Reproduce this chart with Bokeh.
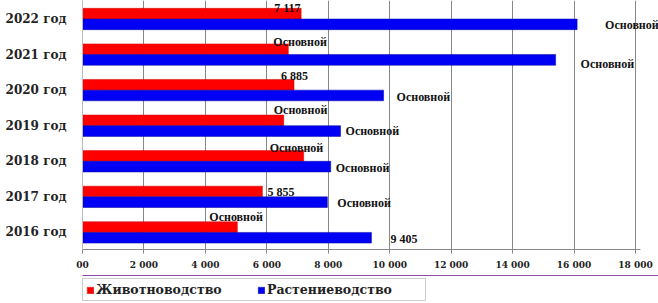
from bokeh.plotting import figure
from bokeh.layouts import column
from bokeh.models import Range1d, FixedTicker, Legend, LegendItem, ColumnDataSource, LabelSet
from bokeh.transform import dodge
from bokeh.embed import file_html
from bokeh.resources import INLINE

# ---- data ----
categories = ["2016 год", "2017 год", "2018 год", "2019 год", "2020 год", "2021 год", "2022 год"]
livestock = [5040, 5855, 7200, 6550, 6885, 6700, 7117]
crops = [9405, 7970, 8080, 8400, 9800, 15400, 16100]
livestock_labels = ["Основной", "5 855", "Основной", "Основной", "6 885", "Основной", "7 117"]
crops_labels = ["9 405", "Основной", "Основной", "Основной", "Основной", "Основной", "Основной"]
series_names = ["Животноводство", "Растениеводство"]
x_ticks = [0, 2000, 4000, 6000, 8000, 10000, 12000, 14000, 16000, 18000]
x_tick_labels = ["00", "2 000", "4 000", "6 000", "8 000", "10 000", "12 000", "14 000", "16 000", "18 000"]

# ---- label placement (style, pixels: dx right, dy up) ----
red_dx = [-28, 5, -34, -10, -13, -15, -27]
red_dy = [10, 0, 8, 10, 9, 7, 6]
blue_dx = [19, 10, 5, 5, 13, 25, 28]
blue_dy = [-1, -1, -1, 0, -2, -4, -1]

RED = "#FF0000"
BLUE = "#0000F5"
FONT = "DejaVu Serif"

idx = list(range(len(categories)))
src = ColumnDataSource(dict(
    y=idx, livestock=livestock, crops=crops,
    llab=livestock_labels, clab=crops_labels,
    rdx=red_dx, rdy=red_dy, bdx=blue_dx, bdy=blue_dy,
))

p = figure(width=658, height=275, output_backend="svg", toolbar_location=None,
           x_range=Range1d(0, 18749), y_range=Range1d(-0.48, 6.52),
           min_border_left=82, min_border_right=0, min_border_top=0, min_border_bottom=26)
p.outline_line_color = None

r_red = p.hbar(y=dodge("y", 0.15), right="livestock", left=0, height=0.3, source=src,
               fill_color=RED, line_color="#D00000", line_width=0.5)
r_blue = p.hbar(y=dodge("y", -0.15), right="crops", left=0, height=0.3, source=src,
                fill_color=BLUE, line_color="#0000A0", line_width=0.5)

red_lbls = LabelSet(x="livestock", y=dodge("y", 0.15), text="llab", source=src,
                    x_offset="rdx", y_offset="rdy", text_align="left", text_baseline="middle",
                    text_font=FONT, text_font_style="bold", text_font_size="12px",
                    text_color="#111111")
blue_lbls = LabelSet(x="crops", y=dodge("y", -0.15), text="clab", source=src,
                     x_offset="bdx", y_offset="bdy", text_align="left", text_baseline="middle",
                     text_font=FONT, text_font_style="bold", text_font_size="12px",
                     text_color="#111111")
p.add_layout(red_lbls)
p.add_layout(blue_lbls)

# axes
p.xaxis.ticker = FixedTicker(ticks=x_ticks)
p.xaxis.bounds = (0, 18150)
p.xaxis.major_label_overrides = {t: l for t, l in zip(x_ticks, x_tick_labels)}
p.xaxis.axis_line_color = "#888888"
p.xaxis.major_tick_line_color = "#888888"
p.xaxis.major_tick_out = 4
p.xaxis.major_tick_in = 0
p.xaxis.minor_tick_line_color = None
p.xaxis.major_label_text_font = FONT
p.xaxis.major_label_text_font_style = "bold"
p.xaxis.major_label_text_font_size = "9px"
p.xaxis.major_label_text_color = "#222222"
p.xaxis.major_label_standoff = 6

p.yaxis.ticker = FixedTicker(ticks=idx)
p.yaxis.major_label_overrides = {i: c for i, c in zip(idx, categories)}
p.yaxis.axis_line_color = "#BBBBBB"
p.yaxis.major_tick_line_color = None
p.yaxis.minor_tick_line_color = None
p.yaxis.major_label_text_font = FONT
p.yaxis.major_label_text_font_style = "bold"
p.yaxis.major_label_text_font_size = "12px"
p.yaxis.major_label_text_color = "#222222"
p.yaxis.major_label_standoff = 10

p.xgrid.grid_line_color = "#888888"
p.ygrid.grid_line_color = None

# ---- legend strip ----
lg = figure(width=658, height=28, output_backend="svg", toolbar_location=None,
            x_range=Range1d(0, 1), y_range=Range1d(0, 1),
            x_axis_type=None, y_axis_type=None,
            min_border_left=0, min_border_right=0, min_border_top=0, min_border_bottom=0)
lg.outline_line_color = None
lg.xgrid.visible = False
lg.ygrid.visible = False
offscreen = ColumnDataSource(dict(y=[5], right=[1]))
lr = lg.hbar(y="y", right="right", left=0, height=0.3, source=offscreen,
             fill_color=RED, line_color="#D00000", line_width=0.5)
lb = lg.hbar(y="y", right="right", left=0, height=0.3, source=offscreen,
             fill_color=BLUE, line_color="#0000A0", line_width=0.5)

legend = Legend(items=[LegendItem(label=series_names[0], renderers=[lr]),
                       LegendItem(label=series_names[1], renderers=[lb])],
                orientation="horizontal", location=(0, 2))
legend.border_line_color = "#999999"
legend.label_text_font = FONT
legend.label_text_font_style = "bold"
legend.label_text_font_size = "12.5px"
legend.label_text_color = "#222222"
legend.glyph_width = 8
legend.glyph_height = 8
legend.label_standoff = 2
legend.label_width = 155
legend.spacing = 6
legend.padding = 3
legend.margin = 0
legend.label_height = 12
lg.add_layout(legend)

open("out.html", "w").write(file_html(column(p, lg, spacing=0), INLINE))
